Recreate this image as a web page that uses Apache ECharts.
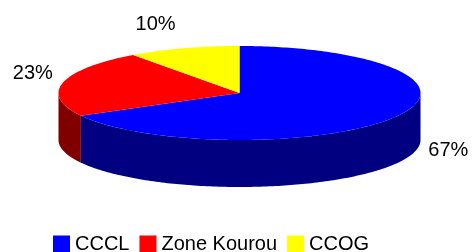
<!DOCTYPE html>
<html><head><meta charset="utf-8">
<script src="https://cdn.jsdelivr.net/npm/echarts@6/dist/echarts.min.js"></script>
<style>html,body{margin:0;padding:0;background:#fff}#c{width:474px;height:252px}</style>
</head><body><div id="c"></div>
<script>
const categories = ['CCCL', 'Zone Kourou', 'CCOG'];
const values = [67, 23, 10];
const topColors = ['#0000FF', '#FF0000', '#FFFF00'];
const sideColors = ['#000080', '#800000', '#808000'];
const labelNudge = [[53, -13], [-30, -9], [-28, -24]];

const CX = 239.5, CY = 93, RX = 181, RY = 47, DEPTH = 47;
const FONT = '"Liberation Sans", Arial, sans-serif';
const total = values.reduce((a, b) => a + b, 0);

function pt(theta, dy) {
  return [CX + RX * Math.sin(theta), CY - RY * Math.cos(theta) + (dy || 0)];
}
function arcPts(a1, a2, dy) {
  const n = Math.max(2, Math.ceil((a2 - a1) / (Math.PI / 180)));
  const r = [];
  for (let k = 0; k <= n; k++) r.push(pt(a1 + (a2 - a1) * k / n, dy));
  return r;
}
function makeRender(i) {
  return function (params, api) {
    const v = api.value(0);
    let start = 0;
    for (let j = 0; j < i; j++) start += values[j];
    const a1 = start / total * 2 * Math.PI;
    const a2 = (start + v) / total * 2 * Math.PI;
    const children = [];
    const s1 = Math.max(a1, Math.PI / 2), s2 = Math.min(a2, 3 * Math.PI / 2);
    if (s2 > s1) {
      const top = arcPts(s1, s2, 0);
      const bot = arcPts(s1, s2, DEPTH).reverse();
      children.push({ type: 'polygon', shape: { points: top.concat(bot) }, style: { fill: sideColors[i] } });
    }
    children.push({ type: 'polygon', shape: { points: [[CX, CY]].concat(arcPts(a1, a2, 0)) }, style: { fill: topColors[i] } });
    const am = (a1 + a2) / 2;
    const front = Math.cos(am) < 0;
    const anc = pt(am, front ? DEPTH : 0);
    children.push({
      type: 'text', x: anc[0] + labelNudge[i][0], y: anc[1] + labelNudge[i][1],
      style: { text: Math.round(v / total * 100) + '%', fill: '#000', font: '20px ' + FONT, align: 'center', verticalAlign: 'middle' }
    });
    return { type: 'group', children };
  };
}

const series = categories.map((name, i) => ({
  type: 'custom', name, coordinateSystem: 'none',
  itemStyle: { color: topColors[i] },
  data: [[values[i]]],
  renderItem: makeRender(i),
  silent: true, animation: false
}));

const chart = echarts.init(document.getElementById('c'));
chart.setOption({
  backgroundColor: '#fff',
  animation: false,
  legend: {
    left: 53, top: 234, padding: 0,
    icon: 'rect',
    itemWidth: 17, itemHeight: 17, itemGap: 10,
    textStyle: { fontSize: 20, fontFamily: FONT, color: '#000', padding: [0, 0, 7, 0] },
    data: categories
  },
  series
});
</script></body></html>
